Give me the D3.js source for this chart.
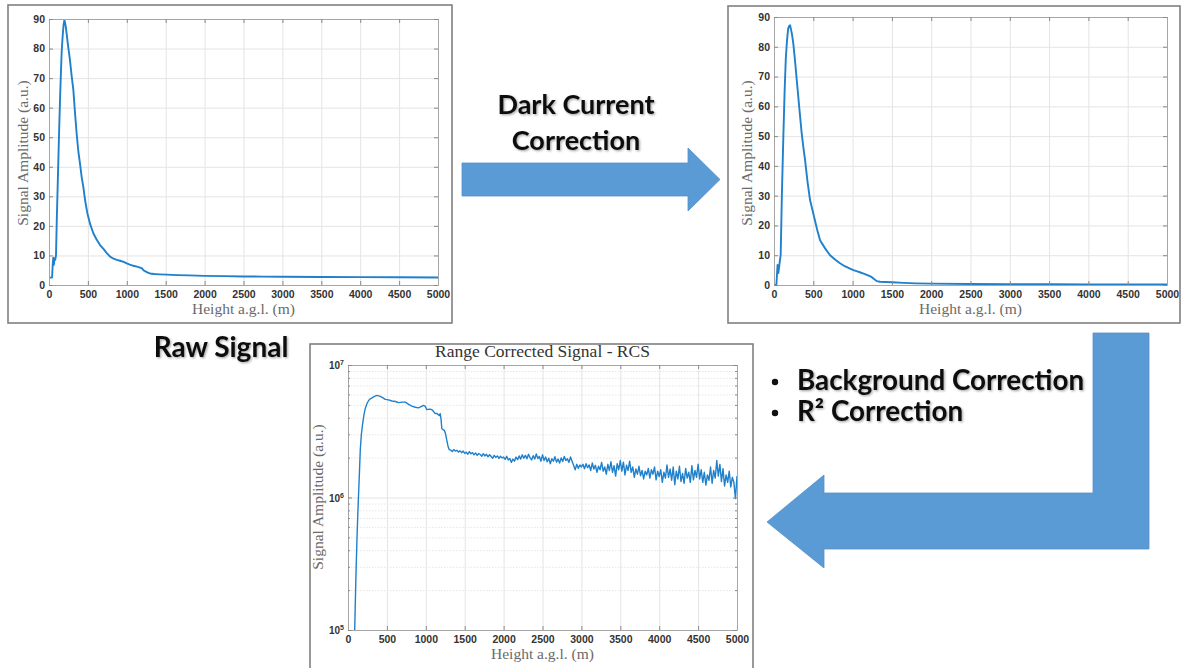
<!DOCTYPE html>
<html><head><meta charset="utf-8">
<script src="https://cdn.jsdelivr.net/npm/d3@7"></script>
<style>
body{margin:0;background:#fff;}
svg{display:block;}
</style></head><body>
<svg id="c" width="1182" height="668"></svg>
<script>
// ---------------- data ----------------
const heightTicks = [0,500,1000,1500,2000,2500,3000,3500,4000,4500,5000];
const amplitudeTicks = [0,10,20,30,40,50,60,70,80,90];
const rcsTicks = [1e5,1e6,1e7];

const rawHeight = [0,30,40,47,55,62,70,80,90,100,110,120,130,141,152,163,175,187,197,205,215,227,240,255,270,290,313,335,356,378,399,420,442,465,493,530,570,610,656,700,740,785,830,870,913,960,999,1040,1085,1130,1171,1195,1214,1240,1270,1299,1350,1420,1514,1650,1800,2000,2250,2500,2750,3000,3500,4000,4500,5000];
const rawSignal = [2.5,2.5,2.6,6.5,9.2,6.8,9.0,8.5,10,22,32,42,52,62,71,79,84,88,89.5,89,87.5,85,82,79,76,71,66,58,51,45,41,36.5,33,28.5,24.3,20.5,17.5,15.5,13.5,12.2,10.9,9.6,8.9,8.5,8.2,7.8,7.3,6.9,6.5,6.2,5.9,5.6,5.0,4.6,4.2,3.9,3.7,3.6,3.5,3.35,3.25,3.1,3.0,2.9,2.85,2.8,2.72,2.65,2.6,2.55];

const dcHeight = [0,30,35,45,55,65,76,85,100,119,135,150,165,180,192,204,215,230,246,265,289,320,352,375,395,425,458,509,550,586,650,713,780,840,900,960,1010,1060,1100,1140,1180,1220,1260,1307,1350,1420,1498,1650,1800,2000,2500,3000,3500,4000,4500,5000];
const dcSignal = [0,0,2,6.7,4.0,6.0,8.4,10,30,50,65,76,82,86,87,87.2,86,84,81,76,69,60,51,46,42,35,28.6,23,18.5,15,12.3,10,8.5,7.3,6.3,5.6,5.0,4.6,4.2,3.8,3.4,3.0,2.3,1.3,1.1,1.0,0.9,0.7,0.55,0.45,0.35,0.3,0.25,0.22,0.2,0.2];

const rcsHeight = [86,95,103,115,126,137,148,158,172,188,205,222,243,265,285,308,340,372,415,450,479,520,565,610,650,700,736,780,821,865,907,940,971,990,1014,1050,1078,1100,1121,1145,1163,1175,1185,1196,1206,1222,1240,1255,1270,1285,1300,
1320,1340,1360,1380,1400,1420,1440,1460,1480,1500,1520,1540,1560,1580,1600,1620,1640,1660,1680,1700,1720,1740,1760,1780,1800,1820,1840,1860,1880,1900,1920,1940,1960,1980,2000,
2020,2040,2060,2080,2100,2120,2140,2160,2180,2200,2220,2240,2260,2280,2300,2320,2340,2360,2380,2400,2420,2440,2460,2480,2500,
2520,2540,2560,2580,2600,2620,2640,2660,2680,2700,2720,2740,2760,2780,2800,2820,2840,2860,2880,2900,2920,2940,2960,2980,3000,
3020,3040,3060,3080,3100,3120,3140,3160,3180,3200,3220,3240,3260,3280,3300,3320,3340,3360,3380,3400,3420,3440,3460,3480,3500,
3520,3540,3560,3580,3600,3620,3640,3660,3680,3700,3720,3740,3760,3780,3800,3820,3840,3860,3880,3900,3920,3940,3960,3980,4000,
4020,4040,4060,4080,4100,4120,4140,4160,4180,4200,4220,4240,4260,4280,4300,4320,4340,4360,4380,4400,4420,4440,4460,4480,4500,
4520,4540,4560,4580,4600,4620,4640,4660,4680,4700,4720,4740,4760,4780,4800,4820,4840,4860,4880,4900,4920,4940,4960,4980,5000];
// values in units of 1e6
const rcsSignal = [0.1,0.17,0.27,0.48,0.75,1.1,1.6,2.3,3.0,3.6,4.2,4.7,5.1,5.4,5.55,5.65,5.8,5.9,5.8,5.65,5.5,5.45,5.35,5.3,5.2,5.25,5.25,5.05,4.9,4.8,4.75,4.85,4.95,4.9,4.6,4.65,4.6,4.45,4.3,4.3,4.2,4.15,4.3,3.9,3.3,3.25,3.2,3.0,2.7,2.45,2.3,
2.28,2.22,2.30,2.24,2.27,2.20,2.25,2.18,2.24,2.15,2.20,2.12,2.22,2.14,2.18,2.10,2.17,2.08,2.15,2.11,2.05,2.14,2.06,2.12,2.03,2.10,2.04,1.98,2.08,2.01,2.06,1.97,2.05,1.99,2.02,
1.94,2.05,1.92,1.97,1.84,1.95,1.88,2.02,1.93,2.06,1.95,2.10,1.98,2.08,1.96,2.12,2.00,1.92,2.07,1.95,2.13,1.97,2.04,1.88,2.10,
1.90,2.02,1.86,1.98,1.80,1.96,1.88,2.03,1.85,1.95,1.82,1.99,1.87,2.04,1.90,1.96,1.84,2.02,1.88,1.75,1.62,1.78,1.66,1.76,1.70,
1.78,1.65,1.80,1.68,1.76,1.60,1.82,1.64,1.75,1.55,1.72,1.62,1.84,1.58,1.70,1.50,1.78,1.60,1.86,1.55,1.74,1.45,1.80,1.62,1.90,
1.58,1.85,1.48,1.75,1.60,1.88,1.55,1.70,1.42,1.64,1.50,1.72,1.46,1.60,1.38,1.58,1.48,1.66,1.40,1.62,1.50,1.70,1.36,1.58,1.44,
1.62,1.30,1.55,1.40,1.76,1.42,1.64,1.35,1.70,1.25,1.58,1.38,1.72,1.32,1.52,1.28,1.66,1.40,1.55,1.30,1.74,1.36,1.60,1.42,1.78,
1.38,1.62,1.30,1.55,1.24,1.48,1.35,1.70,1.28,1.60,1.40,1.90,1.45,1.78,1.32,1.65,1.22,1.48,1.30,1.58,1.20,1.42,1.30,0.98,1.45];

const xAxisLabel = "Height a.g.l. (m)";
const yAxisLabel = "Signal Amplitude (a.u.)";
const rcsTitle = "Range Corrected Signal - RCS";
const arrowLabel = ["Dark Current","Correction"];
const rawLabel = "Raw Signal";
const bulletLabels = ["Background Correction","R\u00B2 Correction"];

// ---------------- drawing ----------------
const svg = d3.select("#c");
svg.append("rect").attr("width",1182).attr("height",668).attr("fill","#fff");
const defs = svg.append("defs");
const f = defs.append("filter").attr("id","shadow").attr("x","-10%").attr("y","-30%").attr("width","120%").attr("height","160%");
f.append("feDropShadow").attr("dx",1.2).attr("dy",1.2).attr("stdDeviation",1.1).attr("flood-color","#000").attr("flood-opacity",0.35);

const LINE = "#1f80cc";
const TICKFONT = "'Liberation Sans', Arial, sans-serif";
const SERIF = "'Liberation Serif', 'Times New Roman', serif";

function frame(x,y,w,h){
  svg.append("rect").attr("x",x).attr("y",y).attr("width",w).attr("height",h)
    .attr("fill","#fff").attr("stroke","#808080").attr("stroke-width",1.6);
}

function panel(o){
  const g = svg.append("g");
  const x = d3.scaleLinear().domain([0,5000]).range([o.left,o.right]);
  const y = o.log ? d3.scaleLog().domain([1e5,1e7]).range([o.bottom,o.top])
                  : d3.scaleLinear().domain([0,90]).range([o.bottom,o.top]);
  const H = o.bottom-o.top, W = o.right-o.left;
  g.append("rect").attr("x",o.left).attr("y",o.top).attr("width",W).attr("height",H).attr("fill","#fff");
  if(o.log){
    const minor = y.ticks().filter(v=>rcsTicks.indexOf(v)<0);
    g.append("g").attr("transform",`translate(${o.left},0)`)
      .call(d3.axisLeft(y).tickValues(minor).tickSize(-W).tickFormat(""))
      .call(s=>{s.select(".domain").remove();s.selectAll("line").attr("stroke","#e6e6e6").attr("stroke-dasharray","1.5,1.5");});
  }
  g.append("g").attr("transform",`translate(0,${o.bottom})`)
    .call(d3.axisBottom(x).tickValues(heightTicks).tickSize(-H).tickFormat(""))
    .call(s=>{s.select(".domain").remove();s.selectAll("line").attr("stroke","#e4e4e4");});
  g.append("g").attr("transform",`translate(${o.left},0)`)
    .call(d3.axisLeft(y).tickValues(o.log?rcsTicks:amplitudeTicks).tickSize(-W).tickFormat(""))
    .call(s=>{s.select(".domain").remove();s.selectAll("line").attr("stroke","#e4e4e4");});
  const cid = "clip"+o.id;
  defs.append("clipPath").attr("id",cid).append("rect").attr("x",o.left).attr("y",o.top).attr("width",W).attr("height",H);
  const pts = o.h.map((h,i)=>[h,o.v[i]]);
  g.append("path").datum(pts).attr("clip-path",`url(#${cid})`)
    .attr("fill","none").attr("stroke",LINE).attr("stroke-width",o.lw||1.9).attr("stroke-linejoin","round")
    .attr("d",d3.line().x(d=>x(d[0])).y(d=>y(o.log?d[1]*1e6:d[1])));
  const styleAx = s=>{s.select(".domain").attr("stroke","#a6a6a6");s.selectAll(".tick line").attr("stroke","#8a8a8a");
    s.selectAll("text").attr("font-family",TICKFONT).attr("font-weight","bold").attr("font-size",10.5).attr("fill","#333");};
  g.append("g").attr("transform",`translate(0,${o.bottom})`)
    .call(d3.axisBottom(x).tickValues(heightTicks).tickSize(-4).tickSizeOuter(0).tickPadding(6).tickFormat(d3.format("d"))).call(styleAx);
  g.append("g").attr("transform",`translate(0,${o.top})`)
    .call(d3.axisTop(x).tickValues(heightTicks).tickSize(-4).tickSizeOuter(0).tickFormat("")).call(styleAx);
  if(o.log){
    const minor = y.ticks().filter(v=>rcsTicks.indexOf(v)<0);
    const la = g.append("g").attr("transform",`translate(${o.left},0)`)
      .call(d3.axisLeft(y).tickValues(rcsTicks).tickSize(-4).tickSizeOuter(0).tickPadding(8).tickFormat("")).call(styleAx);
    la.selectAll(".tick").each(function(d){
      const t = d3.select(this).append("text").attr("x",-4).attr("dy","0.35em").attr("text-anchor","end")
        .attr("font-family",TICKFONT).attr("font-weight","bold").attr("font-size",10).attr("fill","#333");
      t.append("tspan").text("10");
      t.append("tspan").attr("dy",-4).attr("font-size",7).text(String(Math.round(Math.log10(d))));
    });
    g.append("g").attr("transform",`translate(${o.left},0)`)
      .call(d3.axisLeft(y).tickValues(minor).tickSize(-2).tickFormat("")).call(s=>{s.select(".domain").remove();s.selectAll("line").attr("stroke","#8a8a8a");});
    g.append("g").attr("transform",`translate(${o.right},0)`)
      .call(d3.axisRight(y).tickValues(minor).tickSize(-2).tickFormat("")).call(s=>{s.select(".domain").remove();s.selectAll("line").attr("stroke","#8a8a8a");});
    g.append("g").attr("transform",`translate(${o.right},0)`)
      .call(d3.axisRight(y).tickValues(rcsTicks).tickSize(-4).tickSizeOuter(0).tickFormat("")).call(styleAx);
  } else {
    g.append("g").attr("transform",`translate(${o.left},0)`)
      .call(d3.axisLeft(y).tickValues(amplitudeTicks).tickSize(-4).tickSizeOuter(0).tickPadding(4)).call(styleAx);
    g.append("g").attr("transform",`translate(${o.right},0)`)
      .call(d3.axisRight(y).tickValues(amplitudeTicks).tickSize(-4).tickSizeOuter(0).tickFormat("")).call(styleAx);
  }
  g.append("text").attr("x",(o.left+o.right)/2).attr("y",o.xlabY).attr("text-anchor","middle")
    .attr("font-family",SERIF).attr("font-size",15.5).attr("fill","#6a6a6a").text(xAxisLabel);
  g.append("text").attr("transform",`translate(${o.ylabX},${o.ylabCY}) rotate(-90)`).attr("text-anchor","middle")
    .attr("dy","0.35em").attr("font-family",SERIF).attr("font-size",15.5).attr("fill","#6a6a6a").text(yAxisLabel);
  if(o.title){
    g.append("text").attr("x",(o.left+o.right)/2).attr("y",o.top-8).attr("text-anchor","middle")
      .attr("font-family",SERIF).attr("font-size",17.5).attr("fill","#333").text(o.title);
  }
}

frame(8,5,444,318);
frame(728,6,452,317);
frame(310,344,443,330);

panel({id:"a",left:49,right:438,top:19,bottom:285,h:rawHeight,v:rawSignal,xlabY:314,ylabX:23,ylabCY:153});
panel({id:"b",left:774,right:1167,top:17,bottom:285,h:dcHeight,v:dcSignal,xlabY:314,ylabX:747,ylabCY:153});
panel({id:"c",left:348,right:737,top:365,bottom:630,log:true,h:rcsHeight,v:rcsSignal,lw:1.4,xlabY:659,ylabX:318,ylabCY:497,title:rcsTitle});

const ARROW = "#5b9bd5";
svg.append("polygon").attr("points",[[462,163],[688,163],[688,148],[720,179.5],[688,211],[688,196],[462,196]].join(" "))
  .attr("fill",ARROW).attr("stroke","#5590c8").attr("stroke-width",0.8);
svg.append("polygon").attr("points",[[1093,333],[1149,333],[1149,549],[824,549],[824,568],[767,522],[824,475],[824,493],[1093,493]].join(" "))
  .attr("fill",ARROW).attr("stroke","#5590c8").attr("stroke-width",0.8);

const ann = (x,y,txt,anchor,fs)=>svg.append("text").attr("x",x).attr("y",y).attr("text-anchor",anchor||"middle")
  .attr("font-family","Lato, 'Open Sans', sans-serif").attr("font-weight",700).attr("font-size",fs||27)
  .attr("fill","#111").attr("filter","url(#shadow)").text(txt);
ann(576,114,arrowLabel[0]);
ann(576,150,arrowLabel[1]);
ann(221,357,rawLabel,"middle",28);
bulletLabels.forEach((t,i)=>{
  const yy = [390,421][i];
  svg.append("circle").attr("cx",775).attr("cy",yy-8).attr("r",3.2).attr("fill","#111");
  ann(797,yy,t,"start",27.8);
});
</script>
</body></html>
